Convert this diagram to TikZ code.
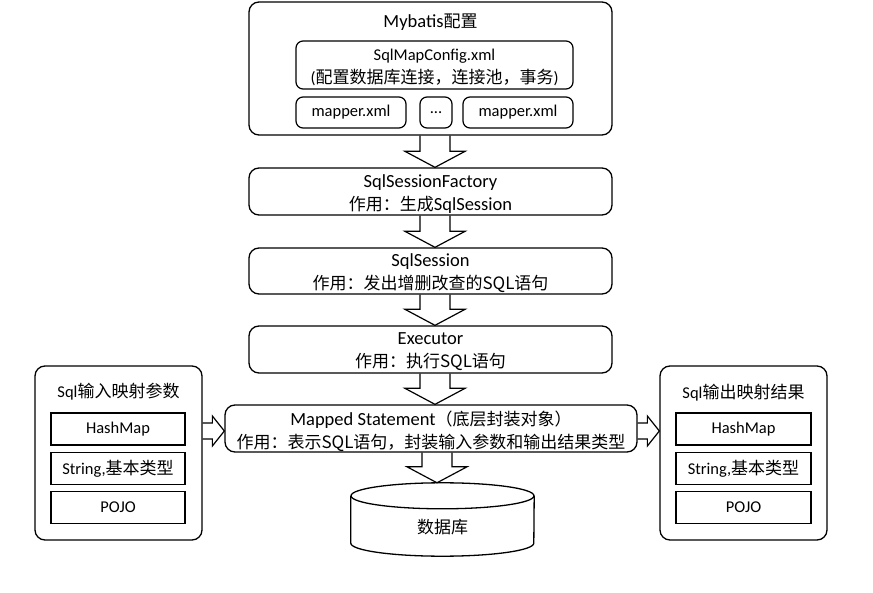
\documentclass[tikz,border=0pt]{standalone}
\usepackage{fontspec}
\setmainfont{Carlito}
\newfontfamily\cjk{Noto Sans CJK SC}
\usetikzlibrary{calc}
\newcommand\zh[1]{{\cjk\fontsize{17}{23}\selectfont #1}}
\newcommand\dnarr[3]{\draw[barrow] let \p1=(#1.south), \p2=(#2.north) in
 ({#3-15pt},\y1) -- ({#3-15pt},{\y2+16pt}) -- ({#3-30pt},{\y2+16pt}) -- (#3pt,\y2) -- ({#3+30pt},{\y2+16pt}) -- ({#3+15pt},{\y2+16pt}) -- ({#3+15pt},\y1);}
\newcommand\rtarr[3]{\draw[barrow] let \p1=(#1.east), \p2=(#2.west) in
 (\x1,{#3+8pt}) -- ({\x2-12pt},{#3+8pt}) -- ({\x2-12pt},{#3+15pt}) -- (\x2,#3pt) -- ({\x2-12pt},{#3-15pt}) -- ({\x2-12pt},{#3-8pt}) -- (\x1,{#3-8pt});}
\begin{document}
\begin{tikzpicture}[x=1pt,y=-1pt,
  bigbox/.style={draw,rounded corners=10pt,line width=1.3pt,inner sep=0pt},
  smallbox/.style={draw,rounded corners=7pt,line width=1.2pt,inner sep=0pt,align=center,font=\fontsize{16.5}{22}\selectfont},
  itembox/.style={draw,line width=1.6pt,inner sep=0pt,minimum width=134pt,minimum height=32pt,font=\fontsize{16.5}{20}\selectfont},
  txt/.style={inner sep=0pt,align=center,font=\fontsize{18.5}{23}\selectfont},
  txts/.style={inner sep=0pt,align=center,font=\fontsize{16.5}{23}\selectfont},
  barrow/.style={draw,line width=1.2pt,line join=miter}]
\useasboundingbox (0,0) rectangle (873,593);
% top config box
\node[bigbox,minimum width=363pt,minimum height=133pt] (cfg) at (430.5,68.5) {};
\node[txt] (cfgt) at (430.5,22) {Mybatis\zh{配置}};
\node[smallbox,minimum width=277pt,minimum height=48pt] (smc) at (434.5,65) {};
\node[txts] (smct) at (434.5,67) {SqlMapConfig.xml\\(\zh{配置数据库连接，连接池，事务})};
\node[smallbox,minimum width=110pt,minimum height=31pt] (m1) at (351,112.5) {mapper.xml};
\node[smallbox,minimum width=32pt,minimum height=31pt] (m2) at (436,112.5) {...};
\node[smallbox,minimum width=110pt,minimum height=31pt] (m3) at (518,112.5) {mapper.xml};
% chain
\node[bigbox,minimum width=363pt,minimum height=47pt] (fac) at (430.5,191.5) {};
\node[txt] (fact) at (430.5,194.5) {SqlSessionFactory\\\zh{作用：生成}SqlSession};
\node[bigbox,minimum width=363pt,minimum height=46pt] (ses) at (430.5,271) {};
\node[txt] (sest) at (430.5,273.5) {SqlSession\\\zh{作用：发出增删改查的SQL语句}};
\node[bigbox,minimum width=363pt,minimum height=47pt] (exe) at (430.5,349.5) {};
\node[txt] (exet) at (430.5,352) {Executor\\\zh{作用：执行SQL语句}};
\node[bigbox,minimum width=412pt,minimum height=47pt] (ms) at (431,428.5) {};
\node[txt] (mst) at (431,431) {Mapped Statement\zh{（底层封装对象）}\\\zh{作用：表示SQL语句，封装输入参数和输出结果类型}};
% database
\node[inner sep=0pt,minimum width=183pt,minimum height=73pt] (db) at (442.5,519.5) {};
\draw[line width=1.3pt] ([yshift=-13pt]db.north west) -- ([yshift=13pt]db.south west)
  arc[start angle=180,end angle=360,x radius=91.5pt,y radius=13pt] -- ([yshift=-13pt]db.north east);
\draw[line width=1.3pt] ([yshift=-13pt]db.north) ellipse [x radius=91.5pt,y radius=13pt];
\node[inner sep=0pt] (dbt) at (442.5,527) {\zh{数据库}};
% left box
\node[bigbox,minimum width=167pt,minimum height=174pt] (in) at (118.5,453) {};
\node[txts] (int) at (118.5,392) {Sql\zh{输入映射参数}};
\node[itembox] (in1) at (118,429) {HashMap};
\node[itembox] (in2) at (118,468.5) {String,\zh{基本类型}};
\node[itembox] (in3) at (118,507.5) {POJO};
% right box
\node[bigbox,minimum width=167pt,minimum height=174pt] (out) at (743.5,453) {};
\node[txts] (outt) at (743.5,393) {Sql\zh{输出映射结果}};
\node[itembox,minimum width=135pt] (out1) at (743.5,429) {HashMap};
\node[itembox,minimum width=135pt] (out2) at (743.5,468.5) {String,\zh{基本类型}};
\node[itembox,minimum width=135pt] (out3) at (743.5,507.5) {POJO};
% arrows
\dnarr{cfg}{fac}{435}
\dnarr{fac}{ses}{435}
\dnarr{ses}{exe}{435}
\dnarr{exe}{ms}{435}
\dnarr{ms}{db}{437}
\rtarr{in}{ms}{-431}
\rtarr{ms}{out}{-431}
\end{tikzpicture}
\end{document}
